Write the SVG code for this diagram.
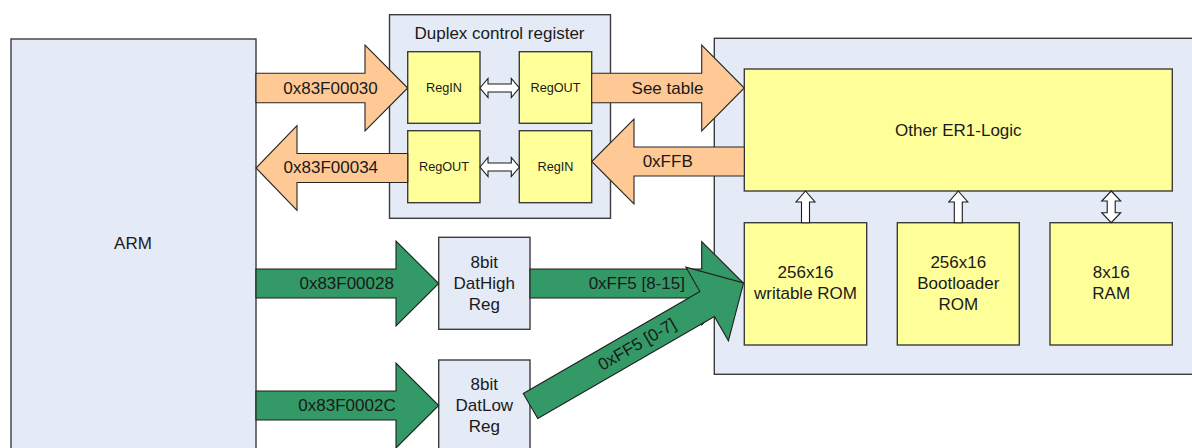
<svg xmlns="http://www.w3.org/2000/svg" width="1192" height="448" viewBox="0 0 1192 448">
<style>
.blue{fill:#e4ebf6;stroke:#3c3c3c;stroke-width:1.4}
.yel{fill:#ffff99;stroke:#3c3c3c;stroke-width:1.4}
.or{fill:#ffc995;stroke:#262626;stroke-width:1.1;stroke-linejoin:miter}
.gr{fill:#339966;stroke:#1f1f1f;stroke-width:1.1}
.wh{fill:#ffffff;stroke:#1a1a1a;stroke-width:1.1}
text{font-family:"Liberation Sans",Arial,sans-serif;fill:#1a1a1a;text-anchor:middle;dominant-baseline:central}
.t17{font-size:17px}
.t13{font-size:12.7px}
</style>
<rect width="1192" height="448" fill="#ffffff"/>
<g id="arm">
<rect class="blue" x="11" y="39" width="245" height="420"/>
<text class="t17" x="133" y="243">ARM</text>
</g>
<g id="duplex">
<rect class="blue" x="389.5" y="14.7" width="221" height="203.6"/>
<text class="t17" x="499.5" y="33.5">Duplex control register</text>
</g>
<g id="regin1">
<rect class="yel" x="407.7" y="51.7" width="72.3" height="71.6"/>
<text class="t13" x="444" y="88">RegIN</text>
</g>
<g id="regout1">
<rect class="yel" x="519.3" y="51.7" width="72.4" height="71.6"/>
<text class="t13" x="555.5" y="88">RegOUT</text>
</g>
<g id="regout2">
<rect class="yel" x="407.7" y="130.7" width="72.3" height="72"/>
<text class="t13" x="444" y="166.7">RegOUT</text>
</g>
<g id="regin2">
<rect class="yel" x="519.3" y="130.7" width="72.4" height="72"/>
<text class="t13" x="555.5" y="166.7">RegIN</text>
</g>
<g id="er1">
<rect class="blue" x="714.3" y="38.3" width="490" height="336"/>
</g>
<g id="otherlogic">
<rect class="yel" x="744.3" y="69" width="428" height="122"/>
<text class="t17" x="958.3" y="130">Other ER1-Logic</text>
</g>
<g id="wrom">
<rect class="yel" x="744.3" y="222.7" width="122.4" height="122.3"/>
<text class="t17" x="805.5" y="272.7">256x16</text>
<text class="t17" x="805.5" y="293.3">writable ROM</text>
</g>
<g id="brom">
<rect class="yel" x="897.3" y="222.7" width="122" height="122.3"/>
<text class="t17" x="958.3" y="262.3">256x16</text>
<text class="t17" x="958.3" y="283.3">Bootloader</text>
<text class="t17" x="958.3" y="304">ROM</text>
</g>
<g id="ram">
<rect class="yel" x="1050" y="222.7" width="122.3" height="122.3"/>
<text class="t17" x="1111.2" y="272.7">8x16</text>
<text class="t17" x="1111.2" y="293.3">RAM</text>
</g>
<g id="dathigh">
<rect class="blue" x="438.7" y="237.3" width="91.3" height="92"/>
<text class="t17" x="484.3" y="262.7">8bit</text>
<text class="t17" x="484.3" y="283.3">DatHigh</text>
<text class="t17" x="484.3" y="304">Reg</text>
</g>
<g id="datlow">
<rect class="blue" x="438.7" y="360" width="91.3" height="100"/>
<text class="t17" x="484.3" y="384.3">8bit</text>
<text class="t17" x="484.3" y="405">DatLow</text>
<text class="t17" x="484.3" y="426">Reg</text>
</g>
<g id="connectors">
<path class="or" d="M256,73.3 H365 V45 L407.7,88 L365,131 V102.7 H256 Z"/>
<text class="t17" x="330.5" y="88">0x83F00030</text>
<path class="or" d="M407.7,153.5 H297 V125.5 L256,168 L297,210.5 V182.5 H407.7 Z"/>
<text class="t17" x="330.8" y="167.5">0x83F00034</text>
<path class="or" d="M591.7,73.3 H701.7 V45 L744.3,88 L701.7,131 V102.7 H591.7 Z"/>
<text class="t17" x="667.5" y="88">See table</text>
<path class="or" d="M744.3,147 H634 V119 L591.7,161.5 L634,204 V176 H744.3 Z"/>
<text class="t17" x="667.7" y="161">0xFFB</text>
<path class="wh" d="M480,88 L488,78.5 V84 H511.3 V78.5 L519.3,88 L511.3,97.5 V92 H488 V97.5 Z"/>
<path class="wh" d="M480,167 L488,157.5 V163 H511.3 V157.5 L519.3,167 L511.3,176.5 V171 H488 V176.5 Z"/>
<path class="wh" d="M805.5,191 L815,202 H809.5 V222.7 H801.5 V202 H796 Z"/>
<path class="wh" d="M958.3,191 L967.8,202 H962.3 V222.7 H954.3 V202 H948.8 Z"/>
<path class="wh" d="M1111.2,191 L1120.7,201 H1115.2 V212.7 H1120.7 L1111.2,222.7 L1101.7,212.7 H1107.2 V201 H1101.7 Z"/>
<path class="gr" d="M256,269 H396 V241 L438.7,283.5 L396,326 V298 H256 Z"/>
<text class="t17" x="346.7" y="283.5">0x83F00028</text>
<path class="gr" d="M256,391 H396 V363 L438.7,405.5 L396,448 V420 H256 Z"/>
<text class="t17" x="347" y="405.5">0x83F0002C</text>
<path class="gr" d="M530,269 H701.7 V241.5 L743.3,283 L701.7,325 V298 H530 Z"/>
<text class="t17" x="685" y="283" style="text-anchor:end">0xFF5 [8-15]</text>
<g transform="translate(530.5,406) rotate(-30)">
<path class="gr" d="M0,-14.5 H204 V-42.5 L246,0 L204,42.5 V14.5 H0 Z"/>
<text class="t17" x="123" y="0">0xFF5 [0-7]</text>
</g>
</g>
</svg>
